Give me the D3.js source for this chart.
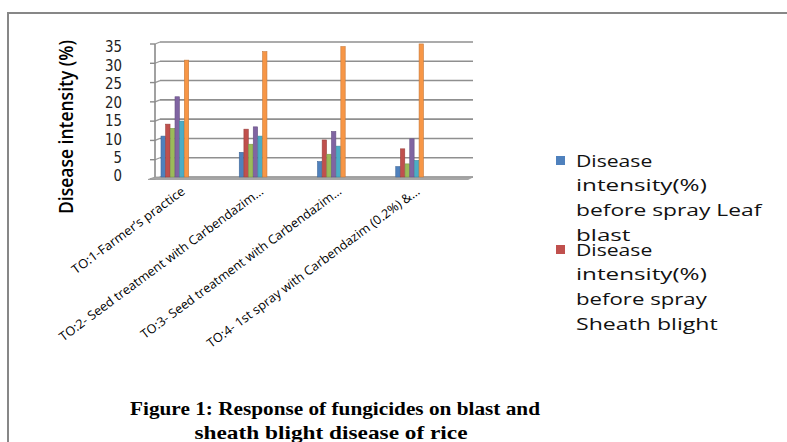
<!DOCTYPE html>
<html><head><meta charset="utf-8">
<script src="https://cdn.jsdelivr.net/npm/d3@7"></script>
<style>body{margin:0;background:#fff}svg{display:block}</style>
</head><body>
<script>
const categories = ["TO:1-Farmer\u2019s practice","TO:2- Seed treatment with Carbendazim\u2026","TO:3- Seed treatment with Carbendazim\u2026","TO:4- 1st spray with Carbendazim (0.2%) &\u2026"];
const seriesNames = ["Disease intensity(%) before spray Leaf blast","Disease intensity(%) before spray Sheath blight","Disease intensity(%) after spray Leaf blast","Disease intensity(%) after spray Sheath blight","Disease control (%) Leaf blast","Disease control (%) Sheath blight"];
const s1 = [10.6, 6.4, 4.0, 2.7];
const s2 = [13.7, 12.4, 9.6, 7.3];
const s3 = [12.6, 8.5, 5.9, 3.4];
const s4 = [20.8, 13.0, 11.8, 9.9];
const s5 = [14.5, 10.6, 8.0, 4.3];
const s6 = [30.3, 32.5, 33.8, 34.5];
const yTicks = [0,5,10,15,20,25,30,35];
const colors = ["#4F81BD","#C0504D","#9BBB59","#8064A2","#4BACC6","#F79646"];
const series = [s1,s2,s3,s4,s5,s6];

const W=787,H=442;
const svg=d3.select("body").append("svg").attr("width",W).attr("height",H);
// outer frame
svg.append("path").attr("d","M8,442 L8,13 L787,13").attr("fill","none").attr("stroke","#878787").attr("stroke-width",2);

const x0=160,x1=473,yTop=42,yBot=177;
const y=d3.scaleLinear().domain([0,35]).range([yBot,yTop]);
const yl=d3.scaleLinear().domain([0,35]).range([176,47]);
const xb=d3.scaleBand().domain(categories).range([x0,x1]).paddingInner(0).paddingOuter(0);
const xs=d3.scaleBand().domain(d3.range(6)).range([0,28]).padding(0);

const g=svg.append("g");
// gridlines (back wall)
yTicks.forEach(t=>{
  g.append("line").attr("x1",x0).attr("x2",x1).attr("y1",y(t)).attr("y2",y(t)).attr("stroke","#8f8f8f").attr("stroke-width",1.6);
  g.append("line").attr("x1",155).attr("x2",x0).attr("y1",y(t)+2).attr("y2",y(t)).attr("stroke","#9a9a9a").attr("stroke-width",1.2);
  g.append("line").attr("x1",150).attr("x2",155).attr("y1",y(t)+2).attr("y2",y(t)+2).attr("stroke","#8a8a8a").attr("stroke-width",1.4);
});
// left wall axis
g.append("line").attr("x1",155).attr("x2",155).attr("y1",y(35)+2).attr("y2",yBot+2).attr("stroke","#8a8a8a").attr("stroke-width",1.6);
// floor
g.append("path").attr("d",`M148,${yBot+2.5} L468,${yBot+2.5} L473,${yBot} L155,${yBot} Z`).attr("fill","#a6a6a6").attr("stroke","#9a9a9a").attr("stroke-width",0.8);

// bars
series.forEach((s,i)=>{
  g.selectAll(null).data(s).enter().append("rect")
    .attr("x",(d,j)=>xb(categories[j])+1+xs(i))
    .attr("y",d=>y(d))
    .attr("width",xs.bandwidth()-0.3)
    .attr("height",d=>yBot-y(d))
    .attr("fill",colors[i])
    .attr("stroke",d3.color(colors[i]).darker(0.6))
    .attr("stroke-width",0.6);
});

// y tick labels
yTicks.forEach(t=>{
  const s=String(t);
  svg.append("text").attr("x",122).attr("y",yl(t)).attr("dy","0.36em")
   .attr("text-anchor","end").attr("font-family","DejaVu Sans").attr("font-size",15).attr("fill","#222")
   .attr("textLength",s.length*8.5).attr("lengthAdjust","spacingAndGlyphs").text(s);
});
// y title
svg.append("text").attr("transform","translate(73,127) rotate(-90)").attr("text-anchor","middle")
  .attr("font-family","Open Sans").attr("font-weight",600).attr("font-size",20).attr("fill","#000")
  .attr("textLength",174).attr("lengthAdjust","spacingAndGlyphs").text("Disease intensity (%)");

// x labels
const labLen=[137,250,246,261];
categories.forEach((c,j)=>{
  const ax=xb(c)+26, ay=193;
  svg.append("text").attr("transform",`translate(${ax},${ay}) rotate(-36.5)`).attr("text-anchor","end")
   .attr("font-family","Open Sans").attr("font-size",12.5).attr("fill","#000")
   .attr("textLength",labLen[j]).attr("lengthAdjust","spacingAndGlyphs").text(c);
});

// legend
const legLines=[["Disease","intensity(%)","before spray Leaf","blast"],["Disease","intensity(%)","before spray","Sheath blight"]];
const legTop=[161,250];
legLines.forEach((lines,i)=>{
  svg.append("rect").attr("x",556).attr("y",legTop[i]-5).attr("width",9).attr("height",9).attr("fill",colors[i]);
  lines.forEach((l,k)=>{
    svg.append("text").attr("x",576).attr("y",legTop[i]+k*24.6).attr("dy","0.35em")
     .attr("font-family","Open Sans").attr("font-size",16.5).attr("fill","#111")
     .attr("textLength",l.length*10.9).attr("lengthAdjust","spacingAndGlyphs").text(l);
  });
});

// caption
svg.append("text").attr("x",335).attr("y",415).attr("text-anchor","middle").attr("font-family","Liberation Serif").attr("font-weight","bold").attr("font-size",19.5)
  .attr("textLength",410).attr("lengthAdjust","spacingAndGlyphs").text("Figure 1: Response of fungicides on blast and");
svg.append("text").attr("x",331).attr("y",439).attr("text-anchor","middle").attr("font-family","Liberation Serif").attr("font-weight","bold").attr("font-size",19.5)
  .attr("textLength",273).attr("lengthAdjust","spacingAndGlyphs").text("sheath blight disease of rice");
</script>
</body></html>
